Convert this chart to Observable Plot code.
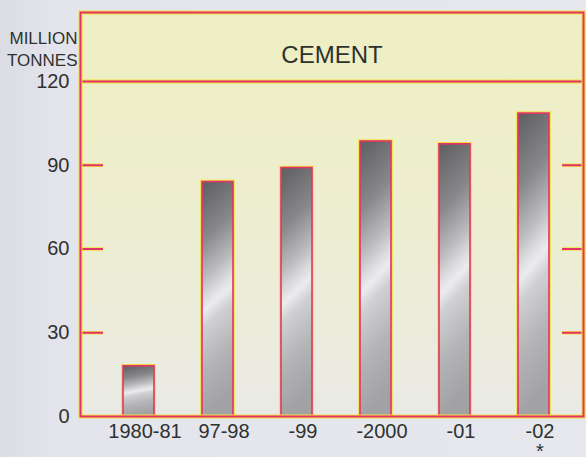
<!DOCTYPE html>
<html>
<head>
<meta charset="utf-8">
<script src="https://cdn.jsdelivr.net/npm/d3@7"></script>
<script src="https://cdn.jsdelivr.net/npm/@observablehq/plot@0.6"></script>
<style>
  html, body { margin: 0; padding: 0; }
  body { width: 586px; height: 457px; overflow: hidden;
         background: linear-gradient(90deg, #dcdce4 0%, #e4e4ec 10%, #e7e7ee 100%); }
  svg { display: block; }
</style>
</head>
<body>
<div id="chart"></div>
<script>
// ---- data ----
const years = ["1980-81", "97-98", "-99", "-2000", "-01", "-02"];
const production = [18, 84, 89, 98.5, 97.5, 108.5];
const notes = ["", "", "", "", "", "*"];
const yTicks = [0, 30, 60, 90, 120];
const innerTicks = [30, 60, 90];
const title = "CEMENT";
const unitLabel = "MILLION\nTONNES";

const data = years.map((y, i) => ({year: y, value: production[i]}));

const RED = "#e4336a";
const YEL = "#eee23a";
const FONT = "'Liberation Sans', Arial, sans-serif";

const chart = Plot.plot({
  width: 586,
  height: 457,
  marginLeft: 80,
  marginRight: 3,
  marginTop: 12,
  marginBottom: 41,
  style: {fontFamily: FONT, color: "#333", background: "transparent", overflow: "visible"},
  x: {type: "band", domain: years, range: [83, 588], paddingInner: 0.61, paddingOuter: 0.5},
  y: {domain: [0, 120], range: [416, 81]},
  marks: [
    Plot.frame({fill: "url(#bgGrad)", stroke: "none"}),
    // inner tick marks left & right
    Plot.ruleY(innerTicks, {y: d => d, insetRight: 480, stroke: YEL, strokeWidth: 3.5}),
    Plot.ruleY(innerTicks, {y: d => d, insetRight: 480, stroke: RED, strokeWidth: 2}),
    Plot.ruleY(innerTicks, {y: d => d, insetLeft: 482, stroke: YEL, strokeWidth: 3.5}),
    Plot.ruleY(innerTicks, {y: d => d, insetLeft: 482, stroke: RED, strokeWidth: 2}),
    // header line at 120
    Plot.ruleY([120], {stroke: YEL, strokeWidth: 4}),
    Plot.ruleY([120], {stroke: RED, strokeWidth: 2}),
    // bars
    Plot.barY(data, {x: "year", y: "value", fill: "url(#barGrad)", stroke: YEL, strokeWidth: 3.5}),
    Plot.barY(data, {x: "year", y: "value", fill: "url(#barGrad)", stroke: RED, strokeWidth: 1.6}),
    // frame
    Plot.frame({stroke: YEL, strokeWidth: 4}),
    Plot.frame({stroke: RED, strokeWidth: 2}),
    // header text
    Plot.text([title], {frameAnchor: "top", dy: 33, fontSize: 24, fill: "#2e322e"}),
    // unit label
    Plot.text([unitLabel], {frameAnchor: "top-left", textAnchor: "end", lineAnchor: "top", dx: -3, dy: 17,
      lineHeight: 1.24, fontSize: 17, fill: "#2e322e"}),
    // axes
    Plot.axisY({ticks: yTicks, tickSize: 0, tickPadding: 11, fontSize: 20, label: null, fill: "#2e322e"}),
    Plot.axisX({tickSize: 0, tickPadding: 7, dx: 6, fontSize: 20, label: null, fill: "#2e322e",
      lineHeight: 1.0,
      tickFormat: d => { const n = notes[years.indexOf(d)]; return n ? d + "\n" + n : d; }})
  ]
});

// gradients
const svg = d3.select(chart);
const defs = svg.insert("defs", ":first-child");
const bg = defs.append("linearGradient").attr("id", "bgGrad")
  .attr("x1", 0).attr("y1", 0).attr("x2", 0).attr("y2", 1);
[[0, "#edeec3"], [0.17, "#eeefc6"], [0.55, "#ededd2"], [0.85, "#ebebdf"], [1, "#eaeae6"]]
  .forEach(([o, c]) => bg.append("stop").attr("offset", o).attr("stop-color", c));
const bar = defs.append("linearGradient").attr("id", "barGrad")
  .attr("x1", 0).attr("y1", 0).attr("x2", 0.12).attr("y2", 1);
[[0, "#5e5e60"], [0.25, "#88888a"], [0.42, "#bdbdbf"], [0.5, "#dcdcde"], [0.55, "#ececee"],
 [0.62, "#d0d0d2"], [0.8, "#b4b4b6"], [1, "#a2a2a4"]]
  .forEach(([o, c]) => bar.append("stop").attr("offset", o).attr("stop-color", c));

document.getElementById("chart").appendChild(chart);
</script>
</body>
</html>
